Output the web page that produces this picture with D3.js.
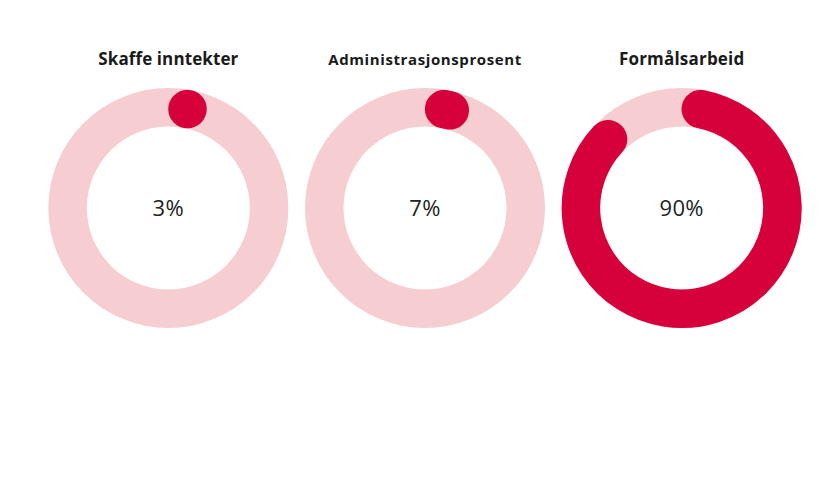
<!DOCTYPE html>
<html><head><meta charset="utf-8">
<script src="https://cdn.jsdelivr.net/npm/d3@7"></script>
<style>
html,body{margin:0;padding:0;background:#fff;}
svg{display:block;}
</style></head>
<body>
<svg id="chart" width="840" height="490"></svg>
<script>
const titles = ["Skaffe inntekter", "Administrasjonsprosent", "Formålsarbeid"];
const values = [3, 7, 90];
const labels = ["3%", "7%", "90%"];
const titleSizes = [17, 15, 17];
const titleSpacing = [0.1, 0.6, 0.2];

const W = 840, H = 490;
const svg = d3.select("#chart");
const x = d3.scaleBand().domain(titles).range([40, 810]);
const angle = d3.scaleLinear().domain([0, 100]).range([0, 2 * Math.PI]);

const outerR = 120, thick = 38.5, midR = outerR - thick / 2;
const cy = 208;
const capA = (thick / 2) / midR;

const track = d3.arc().innerRadius(outerR - thick).outerRadius(outerR).startAngle(0).endAngle(2 * Math.PI);

function progressPath(v) {
  const a0 = capA;
  const a1 = Math.max(a0 + 0.0005, angle(v) - capA);
  const p = d3.path();
  p.moveTo(midR * Math.sin(a0), -midR * Math.cos(a0));
  p.arc(0, 0, midR, a0 - Math.PI / 2, a1 - Math.PI / 2, false);
  return p.toString();
}

const g = svg.selectAll("g.donut").data(titles).join("g")
  .attr("class", "donut")
  .attr("transform", d => `translate(${x(d) + x.bandwidth() / 2},${cy})`);

g.append("path").attr("d", track()).attr("fill", "#f6cdd0");

g.append("path")
  .attr("d", (d, i) => progressPath(values[i]))
  .attr("fill", "none")
  .attr("stroke", "#d6003b")
  .attr("stroke-width", thick)
  .attr("stroke-linecap", "round");

g.append("text")
  .attr("y", 8)
  .attr("text-anchor", "middle")
  .attr("font-family", "'Open Sans', sans-serif")
  .attr("font-size", 22)
  .attr("font-weight", 400)
  .attr("letter-spacing", 0.4)
  .attr("fill", "#222")
  .text((d, i) => labels[i]);

g.append("text")
  .attr("y", 65 - cy)
  .attr("text-anchor", "middle")
  .attr("font-family", "'Open Sans', sans-serif")
  .attr("font-size", (d, i) => titleSizes[i])
  .attr("letter-spacing", (d, i) => titleSpacing[i])
  .attr("font-weight", 700)
  .attr("fill", "#1a1a1a")
  .text(d => d);
</script>
</body></html>
